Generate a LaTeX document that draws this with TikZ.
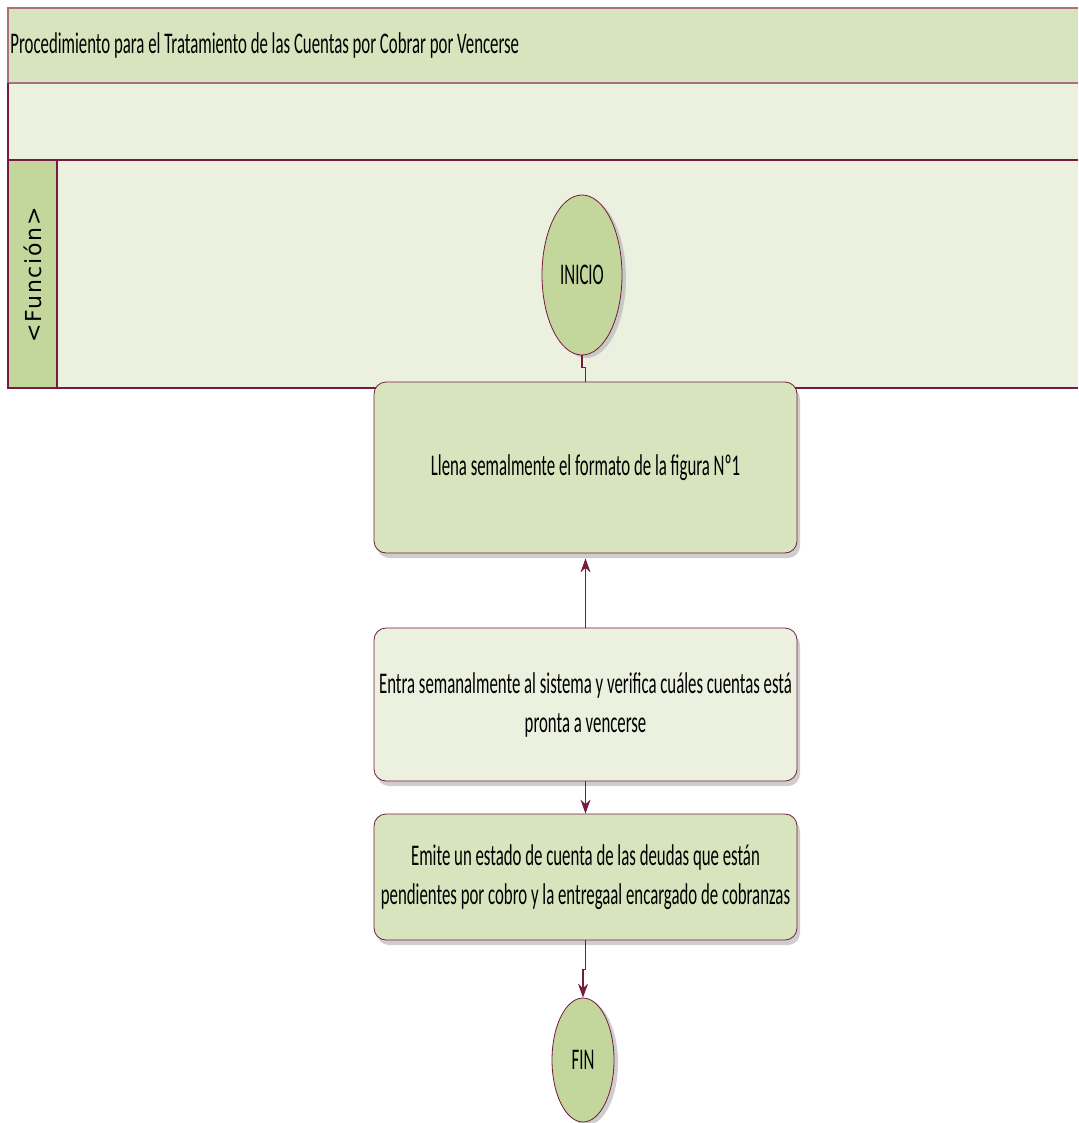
\documentclass[tikz,border=0pt]{standalone}
\usepackage{fontspec}
\setmainfont{Carlito}[FakeStretch=0.56]
\newfontfamily\lanefont[LetterSpace=8]{DejaVu Sans}
\usepackage{tikz}
\usetikzlibrary{arrows.meta,shadows,shapes.geometric}

\definecolor{maroon}{HTML}{741B3F}
\definecolor{mauve}{HTML}{A8707F}
\definecolor{hdrgreen}{HTML}{D7E4BD}
\definecolor{palegreen}{HTML}{EBF1DE}
\definecolor{midgreen}{HTML}{C3D69B}

\begin{document}
\begin{tikzpicture}[x=0.5pt,y=-0.5pt,
    every node/.style={font=\fontsize{15}{19}\selectfont},
    task/.style={draw=maroon,
        rounded corners=6pt,
        minimum width=211.5pt,
        align=center,
        inner sep=0pt,
        drop shadow={shadow xshift=1.5pt,shadow yshift=-2.5pt,fill=gray!55,opacity=.7}},
    terminal/.style={draw=maroon,
        ellipse,
        fill=midgreen,
        inner sep=0pt,
        drop shadow={shadow xshift=2pt,shadow yshift=-1.5pt,fill=gray!55,opacity=.7}},
    flow/.style={draw=maroon,line width=0.6pt},
    tip/.style={-{Stealth[length=7pt,width=5pt]}}]

\useasboundingbox (0,0) rectangle (1078,1123);

% pool and lane
\fill[hdrgreen] (8,8) rectangle (1078,83);
\fill[palegreen] (8,83) rectangle (1078,388);
\fill[midgreen] (8,160) rectangle (57,388);
\draw[mauve,line width=1pt] (1078,8) -- (8,8) -- (8,83) -- (1078,83);
\draw[maroon,line width=0.8pt] (8,83) -- (8,388) -- (1078,388);
\draw[maroon,line width=0.8pt] (1078,160) -- (8,160);
\draw[maroon,line width=0.8pt] (57,160) -- (57,388);

\node [anchor=west,
    inner sep=0pt] (titulo) at (10,46)
    {Procedimiento para el Tratamiento de las Cuentas por Cobrar por Vencerse};

\node [rotate=90,
    inner sep=0pt,
    font=\lanefont\fontsize{11}{12}\selectfont] (funcion) at (33,275) {<Función>};

% shapes
\node [terminal,
    minimum width=40pt,
    minimum height=80pt] (inicio) at (582,275) {INICIO};

\node [task,
    fill=hdrgreen,
    minimum height=85.5pt] (llena) at (585.5,467.5)
    {Llena semalmente el formato de la figura Nº1};

\node [task,
    fill=palegreen,
    minimum height=76.5pt,
    font=\fontsize{15}{19.5}\selectfont] (entra) at (585.5,704.5)
    {Entra semanalmente al sistema y verifica cuáles cuentas está\\pronta a vencerse};

\node [task,
    fill=hdrgreen,
    minimum height=63pt,
    font=\fontsize{15}{19.5}\selectfont] (emite) at (585.5,877)
    {Emite un estado de cuenta de las deudas que están\\pendientes por cobro y la entregaal encargado de cobranzas};

\node [terminal,
    minimum width=31pt,
    minimum height=62pt] (fin) at (583,1060) {FIN};

% connectors
\draw[flow] (inicio.south) -- ++(0,12) -| (llena.north);
\draw[flow,tip] (entra.north) -- ([yshift=-2.5pt]llena.south);
\draw[flow,tip] (entra.south) -- (emite.north);
\draw[flow,tip] (emite.south) -- ++(0,29) -| (fin.north);

\end{tikzpicture}
\end{document}
